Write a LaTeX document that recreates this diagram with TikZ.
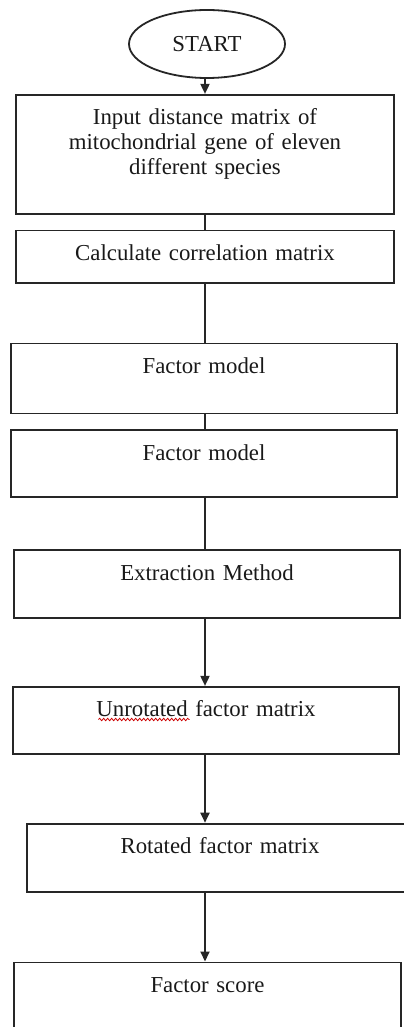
\documentclass[tikz,border=0pt]{standalone}
\usepackage{fontspec}
\setmainfont{Liberation Serif}
\usepackage{xcolor}
\usetikzlibrary{positioning, arrows.meta, shapes.geometric, decorations.pathmorphing}

\begin{document}
\begin{tikzpicture}[node distance=8pt,
  every node/.style={draw=black!85, line width=0.9pt, align=center, font=\fontsize{11.4pt}{12.5pt}\selectfont, text=black!90, inner sep=0pt},
  stepbox/.style={minimum width=193pt, text width=180pt, text height=15pt},
  arrow/.style={-{Triangle[width=4.5pt,length=5pt]}, line width=0.9pt, draw=black!85},
  link/.style={line width=0.9pt, draw=black!85},
  spellwave/.style={draw=red!80!black, line width=0.4pt, decorate, decoration={snake, amplitude=0.6pt, segment length=2pt}}]
\useasboundingbox (0,0) rectangle (201.5pt,-513.5pt);
\coordinate (axis) at (102.5pt,0);
\node[ellipse, minimum width=78pt, minimum height=34pt] (start) at (103.5pt,-22pt) {START};
\node[stepbox, minimum width=189pt, text depth=44.5pt, below=7.5pt of start, xshift=-1pt] (input) {Input distance matrix of\\mitochondrial gene of eleven\\different species};
\node[stepbox, minimum width=189pt, text depth=11pt, below=7.5pt of input] (calc) {Calculate correlation matrix};
\node[stepbox, text depth=20pt, below=29.5pt of calc, xshift=-0.5pt] (model1) {Factor model};
\node[stepbox, text depth=18.5pt, below=7.5pt of model1] (model2) {Factor model};
\node[stepbox, text depth=19pt, below=25.5pt of model2, xshift=1.5pt] (extract) {Extraction Method};
\node[stepbox, text depth=18.5pt, below=33.5pt of extract, xshift=-0.5pt] (unrot) {Unrotated factor matrix};
\node[stepbox, text depth=19pt, below=34pt of unrot, xshift=7pt] (rotated) {Rotated factor matrix};
\node[stepbox, text depth=20pt, minimum width=193.5pt, below=34.5pt of rotated, xshift=-6.25pt] (score) {Factor score};
% spelling mark under the first word
\draw[spellwave] ([shift={(-53.8pt,-16.8pt)}]unrot.north) -- ++(45.6pt,0);
% connectors
\draw[arrow] (axis |- start.south) -- (axis |- input.north);
\draw[link] (axis |- input.south) -- (axis |- calc.north);
\draw[link] (axis |- calc.south) -- (axis |- model1.north);
\draw[link] (axis |- model1.south) -- (axis |- model2.north);
\draw[link] (axis |- model2.south) -- (axis |- extract.north);
\draw[arrow] (axis |- extract.south) -- (axis |- unrot.north);
\draw[arrow] (axis |- unrot.south) -- (axis |- rotated.north);
\draw[arrow] (axis |- rotated.south) -- (axis |- score.north);
\end{tikzpicture}
\end{document}
